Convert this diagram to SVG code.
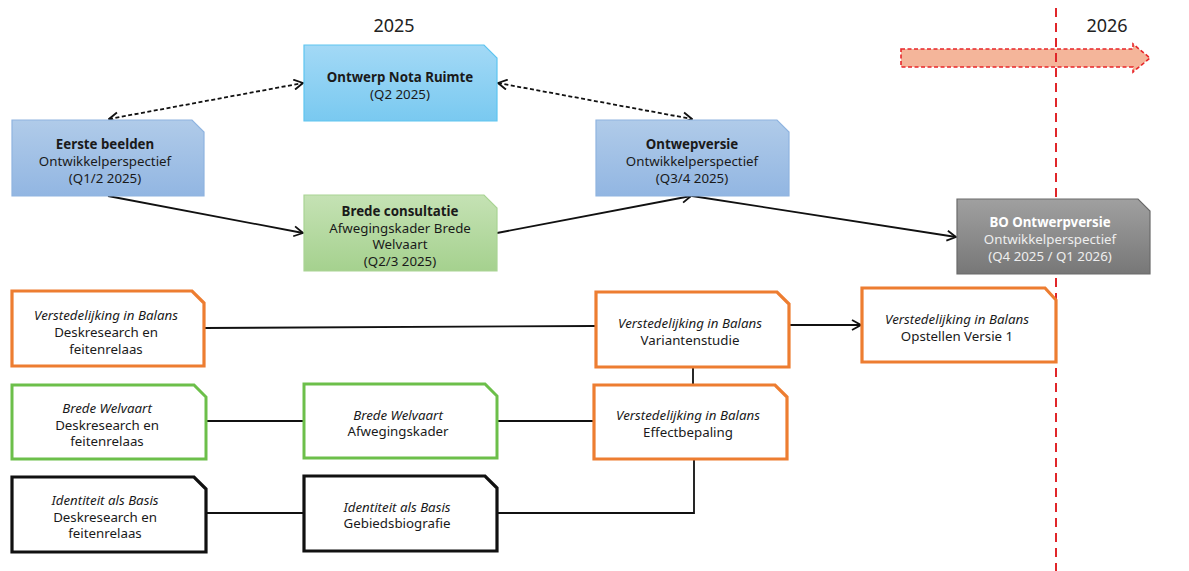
<svg xmlns="http://www.w3.org/2000/svg" width="1189" height="571" viewBox="0 0 1189 571">
<defs>
<linearGradient id="gBlue1" x1="0" y1="0" x2="0" y2="1"><stop offset="0" stop-color="#a3d9f6"/><stop offset="1" stop-color="#79c9f0"/></linearGradient>
<linearGradient id="gBlue2" x1="0" y1="0" x2="0" y2="1"><stop offset="0" stop-color="#b0cbe9"/><stop offset="1" stop-color="#92b6e2"/></linearGradient>
<linearGradient id="gGreen" x1="0" y1="0" x2="0" y2="1"><stop offset="0" stop-color="#c5e2b4"/><stop offset="1" stop-color="#a5d18e"/></linearGradient>
<linearGradient id="gGray" x1="0" y1="0" x2="0" y2="1"><stop offset="0" stop-color="#a0a0a0"/><stop offset="1" stop-color="#777777"/></linearGradient>
<marker id="arrB" viewBox="0 0 12 12" refX="11" refY="6" markerWidth="12" markerHeight="12" orient="auto-start-reverse" markerUnits="userSpaceOnUse">
<path d="M2,1 L11,6 L2,11" fill="none" stroke="#111" stroke-width="1.8"/>
</marker>
</defs>
<style>
text{font-family:"Noto Sans","Open Sans","Liberation Sans",sans-serif;font-size:13.3px;fill:#1a1a1a;text-anchor:middle}
.b{font-weight:bold}
.i{font-style:italic}
.yr{font-size:18px;fill:#222}
.w{fill:#ffffff}
.lw{fill:#eeeeee}
.conn{fill:none;stroke:#111;stroke-width:1.8}
.dash{stroke-dasharray:4 2.5}
.orange{fill:#ffffff;stroke:#ed7d31;stroke-width:3.2}
.green{fill:#ffffff;stroke:#6cbf4a;stroke-width:3}
.black{fill:#ffffff;stroke:#111;stroke-width:3.2}
</style>
<rect width="1189" height="571" fill="#ffffff"/>

<text class="yr" x="394" y="32">2025</text>
<text class="yr" x="1107" y="32">2026</text>

<g id="timeline">
<path d="M901,49 H1133 V44 L1150,58 L1133,72 V67 H901 Z" fill="#f4b59a" stroke="#e8262a" stroke-width="1.6" stroke-dasharray="4 2.5"/>
<line x1="1056" y1="8" x2="1056" y2="571" stroke="#e0262a" stroke-width="2" stroke-dasharray="9 6"/>
</g>

<g id="connectors">
<line class="conn dash" x1="109" y1="119" x2="303" y2="83" marker-start="url(#arrB)" marker-end="url(#arrB)"/>
<line class="conn dash" x1="498" y1="83" x2="692" y2="119" marker-start="url(#arrB)" marker-end="url(#arrB)"/>
<line class="conn" x1="108" y1="196" x2="303" y2="233" marker-end="url(#arrB)"/>
<line class="conn" x1="497" y1="233" x2="691" y2="196" marker-end="url(#arrB)"/>
<line class="conn" x1="692" y1="196" x2="956" y2="237" marker-end="url(#arrB)"/>
<line class="conn" x1="204" y1="328" x2="596" y2="326"/>
<line class="conn" x1="789" y1="325" x2="861" y2="325" marker-end="url(#arrB)"/>
<line class="conn" x1="693" y1="367" x2="693" y2="384"/>
<line class="conn" x1="206" y1="421" x2="304" y2="421"/>
<line class="conn" x1="497" y1="421" x2="593" y2="421"/>
<line class="conn" x1="206" y1="513" x2="304" y2="513"/>
<polyline class="conn" points="497,513 694,513 694,459"/>
</g>

<g id="ontwerp-nota-ruimte">
<path d="M304,45 H484 L497,58 V121 H304 Z" fill="url(#gBlue1)" stroke="#5ec5f0" stroke-width="1.2"/>
<text class="b" x="400" y="82">Ontwerp Nota Ruimte</text>
<text x="400" y="99">(Q2 2025)</text>
</g>

<g id="eerste-beelden">
<path d="M12,120 H192 L204,132 V196 H12 Z" fill="url(#gBlue2)" stroke="#8fb4e0" stroke-width="1.2"/>
<text class="b" x="105" y="149">Eerste beelden</text>
<text x="105" y="166">Ontwikkelperspectief</text>
<text x="105" y="183">(Q1/2 2025)</text>
</g>

<g id="brede-consultatie">
<path d="M304,195 H484 L497,208 V271 H304 Z" fill="url(#gGreen)" stroke="#a9d494" stroke-width="1.2"/>
<text class="b" x="400" y="216">Brede consultatie</text>
<text x="400" y="233">Afwegingskader Brede</text>
<text x="400" y="249">Welvaart</text>
<text x="400" y="266">(Q2/3 2025)</text>
</g>

<g id="ontwepversie">
<path d="M596,120 H777 L789,132 V196 H596 Z" fill="url(#gBlue2)" stroke="#8fb4e0" stroke-width="1.2"/>
<text class="b" x="692" y="149">Ontwepversie</text>
<text x="692" y="166">Ontwikkelperspectief</text>
<text x="692" y="183">(Q3/4 2025)</text>
</g>

<g id="bo-ontwerpversie">
<path d="M957,199 H1138 L1150,211 V274 H957 Z" fill="url(#gGray)" stroke="#6a6a6a" stroke-width="1.2"/>
<text class="b w" x="1050" y="227">BO Ontwerpversie</text>
<text class="lw" x="1050" y="244">Ontwikkelperspectief</text>
<text class="lw" x="1050" y="261">(Q4 2025 / Q1 2026)</text>
</g>

<g id="vib-deskresearch">
<path class="orange" d="M12,291 H192 L204,303 V366 H12 Z"/>
<text class="i" x="106" y="320">Verstedelijking in Balans</text>
<text x="106" y="337">Deskresearch en</text>
<text x="106" y="354">feitenrelaas</text>
</g>

<g id="vib-variantenstudie">
<path class="orange" d="M596,292 H777 L789,304 V367 H596 Z"/>
<text class="i" x="690" y="328">Verstedelijking in Balans</text>
<text x="690" y="345">Variantenstudie</text>
</g>

<g id="vib-opstellen">
<path class="orange" d="M862,288 H1045 L1056,300 V362 H862 Z"/>
<text class="i" x="957" y="324">Verstedelijking in Balans</text>
<text x="957" y="341">Opstellen Versie 1</text>
</g>

<g id="bw-deskresearch">
<path class="green" d="M12,385 H194 L206,397 V459 H12 Z"/>
<text class="i" x="107" y="413">Brede Welvaart</text>
<text x="107" y="430">Deskresearch en</text>
<text x="107" y="446">feitenrelaas</text>
</g>

<g id="bw-afwegingskader">
<path class="green" d="M304,384 H485 L497,396 V458 H304 Z"/>
<text class="i" x="398" y="420">Brede Welvaart</text>
<text x="398" y="436">Afwegingskader</text>
</g>

<g id="vib-effectbepaling">
<path class="orange" d="M594,385 H775 L787,397 V459 H594 Z"/>
<text class="i" x="688" y="420">Verstedelijking in Balans</text>
<text x="688" y="437">Effectbepaling</text>
</g>

<g id="iab-deskresearch">
<path class="black" d="M12,477 H194 L206,489 V552 H12 Z"/>
<text class="i" x="105" y="505">Identiteit als Basis</text>
<text x="105" y="522">Deskresearch en</text>
<text x="105" y="538">feitenrelaas</text>
</g>

<g id="iab-gebiedsbiografie">
<path class="black" d="M304,476 H485 L497,488 V551 H304 Z"/>
<text class="i" x="397" y="512">Identiteit als Basis</text>
<text x="397" y="528">Gebiedsbiografie</text>
</g>
</svg>
